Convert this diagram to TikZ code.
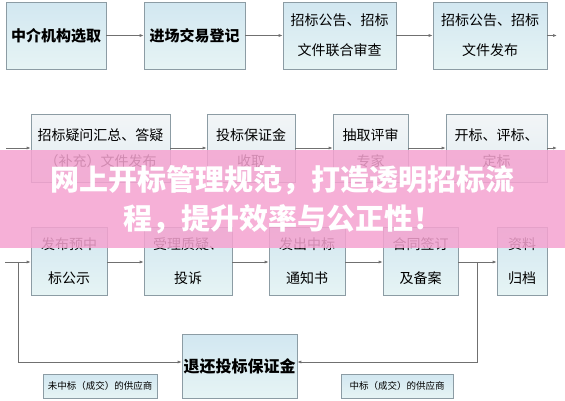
\documentclass[tikz,border=0pt]{standalone}
\usepackage{fontspec}
\newfontfamily\cjk{Noto Sans CJK SC}
\usetikzlibrary{arrows.meta,shadows}
\definecolor{boxborder}{HTML}{8C9CA4}
\definecolor{boxtop}{HTML}{D2E7F1}
\definecolor{boxbot}{HTML}{E6F4F4}
\definecolor{lboxtop}{HTML}{F2F5F7}
\definecolor{lboxbot}{HTML}{E2EDF1}
\definecolor{linegray}{HTML}{707070}
\definecolor{bannerpink}{HTML}{F5A3D0}
\begin{document}
\begin{tikzpicture}[x=1pt,y=-1pt,
  box/.style={draw=boxborder, line width=0.6pt, top color=boxtop, bottom color=boxbot,
    inner sep=0pt, align=center, text=black,
    font=\cjk\fontsize{14}{30}\selectfont,
    drop shadow={shadow xshift=1.2pt, shadow yshift=-1.2pt, opacity=0.25, fill=black}},
  lbox/.style={box, top color=lboxtop, bottom color=lboxbot, font=\cjk\fontsize{14}{26}\selectfont},
  rbox/.style={box, font=\cjk\fontsize{14}{34}\selectfont},
  conn/.style={draw=linegray, line width=0.7pt, -{Latex[length=4pt,width=3pt]}},
  plain/.style={draw=linegray, line width=0.7pt}
]
\fill[white] (0,0) rectangle (565,400);
\useasboundingbox (0,0) rectangle (565,400);

% row 1
\node[box, minimum width=100pt, minimum height=67pt, font=\cjk\bfseries\fontsize{15}{30}\selectfont] (A) at (56,35.5) {中介机构选取};
\node[box, minimum width=101pt, minimum height=67pt, font=\cjk\bfseries\fontsize{15}{30}\selectfont] (B) at (194.5,35.5) {进场交易登记};
\node[box, minimum width=113pt, minimum height=67pt] (C) at (339.5,35.5) {招标公告、招标\\文件联合审查};
\node[box, minimum width=114pt, minimum height=67pt] (D) at (490,35.5) {招标公告、招标\\文件发布};
\coordinate (Dout) at (557,35.5);

% row 2
\coordinate (Ein) at (6,148);
\node[lbox, minimum width=139pt, minimum height=68pt] (E) at (100.5,148) {招标疑问汇总、答疑\\（补充）文件发布};
\node[lbox, minimum width=88pt, minimum height=68pt] (F) at (251,148) {投标保证金\\收取};
\node[lbox, minimum width=75pt, minimum height=68pt] (G) at (370.5,148) {抽取评审\\专家};
\node[lbox, minimum width=101pt, minimum height=68pt] (H) at (496.5,148) {开标、评标、\\定标};
\coordinate (Hout) at (557,148);

% row 3
\coordinate (Iin) at (5,262);
\coordinate (Lj) at (18,262);
\coordinate (Lc) at (18,362);
\node[rbox, minimum width=76pt, minimum height=68pt] (I) at (69,261) {发布预中\\标公示};
\node[rbox, minimum width=88pt, minimum height=68pt] (J) at (188,261) {受理质疑、\\投诉};
\node[rbox, minimum width=76pt, minimum height=68pt] (K) at (307,261) {发出中标\\通知书};
\node[rbox, minimum width=75pt, minimum height=68pt] (L) at (420.5,261) {合同签订\\及备案};
\node[rbox, minimum width=50pt, minimum height=68pt] (M) at (522,261) {资料\\归档};
\coordinate (Rj) at (477,262);
\coordinate (Rc) at (477,362);

% bottom
\node[box, minimum width=115pt, minimum height=64pt, font=\cjk\bfseries\fontsize{16}{30}\selectfont] (R) at (239.5,366) {退还投标保证金};
\node[box, minimum width=114pt, minimum height=24pt, font=\cjk\fontsize{9.5}{12}\selectfont] (U) at (100,386) {未中标（成交）的供应商};
\node[box, minimum width=112pt, minimum height=24pt, font=\cjk\fontsize{9.5}{12}\selectfont] (V) at (397,386) {中标（成交）的供应商};

% connectors
\draw[conn] (A) -- (B);
\draw[conn] (B) -- (C);
\draw[conn] (C) -- (D);
\draw[conn] (D) -- (Dout);
\draw[conn] (Ein) -- (E);
\draw[conn] (E) -- (F);
\draw[conn] (F) -- (G);
\draw[conn] (G) -- (H);
\draw[conn] (H) -- (Hout);
\draw[conn] (Iin) -- (I.west |- Iin);
\draw[conn] (I.east |- Iin) -- (J.west |- Iin);
\draw[conn] (J.east |- Iin) -- (K.west |- Iin);
\draw[conn] (K.east |- Iin) -- (L.west |- Iin);
\draw[conn] (L.east |- Iin) -- (M.west |- Iin);
\draw[conn] (Lj) -- (Lc) -- (R.west |- Lc);
\draw[conn] (Rj) -- (Rc) -- (R.east |- Rc);

% banner
\fill[bannerpink, opacity=0.85] (0,150) rectangle (565,248);
\node[text=white, font=\cjk\bfseries\fontsize{29}{36}\selectfont, inner sep=0pt] (T1) at (282.5,180) {网上开标管理规范，打造透明招标流};
\node[text=white, font=\cjk\bfseries\fontsize{29}{36}\selectfont, inner sep=0pt] (T2) at (282.5,219) {程，提升效率与公正性！};
\end{tikzpicture}
\end{document}
